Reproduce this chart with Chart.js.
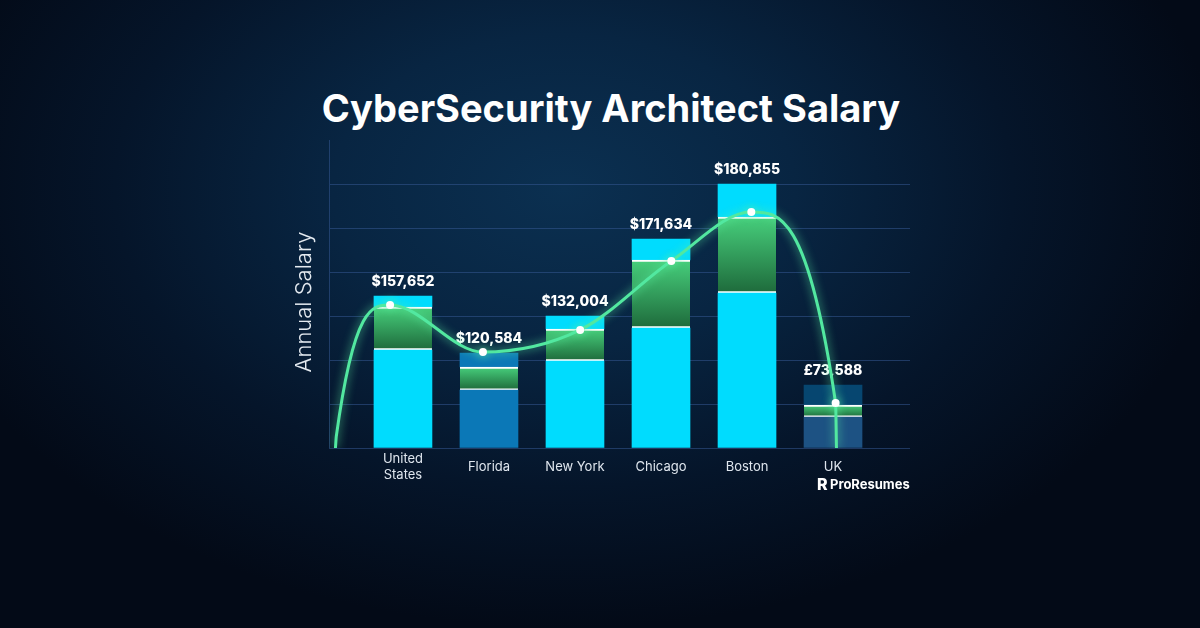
<!DOCTYPE html>
<html>
<head>
<meta charset="utf-8">
<script src="https://cdn.jsdelivr.net/npm/chart.js@4.4.1/dist/chart.umd.min.js"></script>
<style>
  html, body { margin: 0; padding: 0; }
  body {
    width: 1200px; height: 628px; overflow: hidden; position: relative;
    background: radial-gradient(ellipse 55% 70% at 47% 30%, #0b3051 0%, #082542 35%, #05152a 68%, #030a17 100%);
  }
  #title {
    position: absolute; left: 0; top: 83px; width: 1222px; margin: 0;
    text-align: center; color: #fff;
    font: 700 38px/50px Inter, sans-serif;
  }
  #wrap { position: absolute; left: 0; top: 0; }
</style>
</head>
<body>
<h1 id="title">CyberSecurity Architect Salary</h1>
<div id="wrap"><canvas id="salaryChart" width="1200" height="628"></canvas></div>
<script>
const cities = [['United', 'States'], 'Florida', 'New York', 'Chicago', 'Boston', 'UK']
const salaryLabels = ['$157,652', '$120,584', '$132,004', '$171,634', '$180,855', '£73,588']

// bar pieces (one grid step = 30,000)
const baseSegment = [66800, 39500, 59300, 81800, 105700, 21100]
const greenSegment = [29300, 15700, 21800, 46400, 51800, 8200]
const topSegment = [7500, 9500, 8900, 14300, 22500, 13600]

// trend curve (x in category units)
const curveX = [-0.785, -0.775, -0.15, 0.93, 2.06, 3.12, 4.05, 5.03, 5.04]
const curveY = [0, 8000, 97500, 65400, 80500, 127500, 160900, 30700, 0]

const cyan = '#00dcfe'
const baseColors = [cyan, '#0b78b7', cyan, cyan, cyan, '#1d5283']
const topColors = [cyan, '#0b78b7', cyan, cyan, cyan, '#064670']
const gridColor = 'rgba(52, 88, 145, 0.55)'

const greenFill = c => {
    const y = c.chart.scales.y
    if (!y || c.dataIndex === undefined) return '#34a862'
    const i = c.dataIndex
    const lo = y.getPixelForValue(baseSegment[i])
    const hi = y.getPixelForValue(baseSegment[i] + greenSegment[i])
    if (!isFinite(lo) || !isFinite(hi)) return '#34a862'
    const g = c.chart.ctx.createLinearGradient(0, hi, 0, lo)
    g.addColorStop(0, '#47cf7c')
    g.addColorStop(1, '#1e6a3b')
    return g
}

const decor = {
    id: 'decor',
    beforeDatasetDraw(chart, args) {
        if (args.meta.type !== 'line') return
        const { ctx, scales: { x, y } } = chart
        ctx.save()
        ctx.font = '800 14px Inter'
        ctx.fillStyle = '#ffffff'
        ctx.textAlign = 'center'
        ctx.textBaseline = 'middle'
        salaryLabels.forEach((t, i) => {
            const total = baseSegment[i] + greenSegment[i] + topSegment[i]
            ctx.fillText(t, x.getPixelForValue(i), y.getPixelForValue(total) - 14)
        })
        ctx.restore()
        ctx.save()
        ctx.shadowColor = 'rgba(90, 240, 165, 0.85)'
        ctx.shadowBlur = 10
    },
    afterDatasetDraw(chart, args) {
        if (args.meta.type === 'line') chart.ctx.restore()
    },
    afterDraw(chart) {
        const ctx = chart.ctx
        ctx.save()
        ctx.fillStyle = '#e4eaf0'
        ctx.font = '300 22px Inter'
        ctx.textAlign = 'center'
        ctx.textBaseline = 'middle'
        ctx.translate(304, 302)
        ctx.rotate(-Math.PI / 2)
        ctx.fillText('Annual Salary', 0, 0)
        ctx.restore()

        ctx.save()
        ctx.fillStyle = '#ffffff'
        ctx.textBaseline = 'alphabetic'
        ctx.textAlign = 'left'
        ctx.font = '800 16px Inter'
        ctx.fillText('R', 817, 490)
        ctx.font = '700 13px Inter'
        ctx.fillText('ProResumes', 830, 489)
        ctx.restore()
    }
}

const barSet = (values, color, extra) => Object.assign({
    type: 'bar',
    data: values.map((v, i) => ({ x: i, y: v })),
    backgroundColor: color,
    stack: 'bars',
    barThickness: 58,
    borderWidth: 0
}, extra)

new Chart(document.getElementById('salaryChart'), {
    data: {
        datasets: [
            {
                type: 'line',
                label: 'trend',
                data: curveX.map((x, i) => ({ x, y: curveY[i] })),
                stack: 'curve',
                borderColor: '#52e8a0',
                borderWidth: 3,
                cubicInterpolationMode: 'monotone',
                pointRadius: curveX.map((x, i) => (i < 2 || i === curveX.length - 1) ? 0 : 4),
                pointBackgroundColor: '#ffffff',
                pointBorderWidth: 0,
                fill: false
            },
            barSet(baseSegment, baseColors),
            barSet(greenSegment, greenFill, {
                borderColor: '#ffffff',
                borderWidth: { top: 2, bottom: 2, left: 0, right: 0 },
                borderSkipped: false
            }),
            barSet(topSegment, topColors)
        ]
    },
    options: {
        responsive: false,
        animation: false,
        events: [],
        devicePixelRatio: 1,
        layout: { padding: { left: 288, right: 290, top: 140, bottom: 130 } },
        plugins: { legend: { display: false }, tooltip: { enabled: false } },
        scales: {
            x: {
                type: 'linear',
                min: -0.86,
                max: 5.895,
                offset: false,
                stacked: true,
                grid: { display: false },
                border: { display: false },
                afterBuildTicks: s => { s.ticks = cities.map((c, i) => ({ value: i })) },
                afterFit: s => { s.height = 50 },
                ticks: {
                    callback: v => cities[v],
                    color: '#dfe6ee',
                    font: { family: 'Inter', size: 13 },
                    padding: 3,
                    crossAlign: 'center',
                    maxRotation: 0,
                    autoSkip: false
                }
            },
            y: {
                min: 0,
                max: 210000,
                stacked: true,
                afterFit: s => { s.width = 41 },
                ticks: { display: false, stepSize: 30000 },
                grid: {
                    color: c => c.tick && c.tick.value === 210000 ? 'rgba(0,0,0,0)' : gridColor,
                    drawTicks: false
                },
                border: { display: true, color: gridColor }
            }
        }
    },
    plugins: [decor]
})
</script>
</body>
</html>
